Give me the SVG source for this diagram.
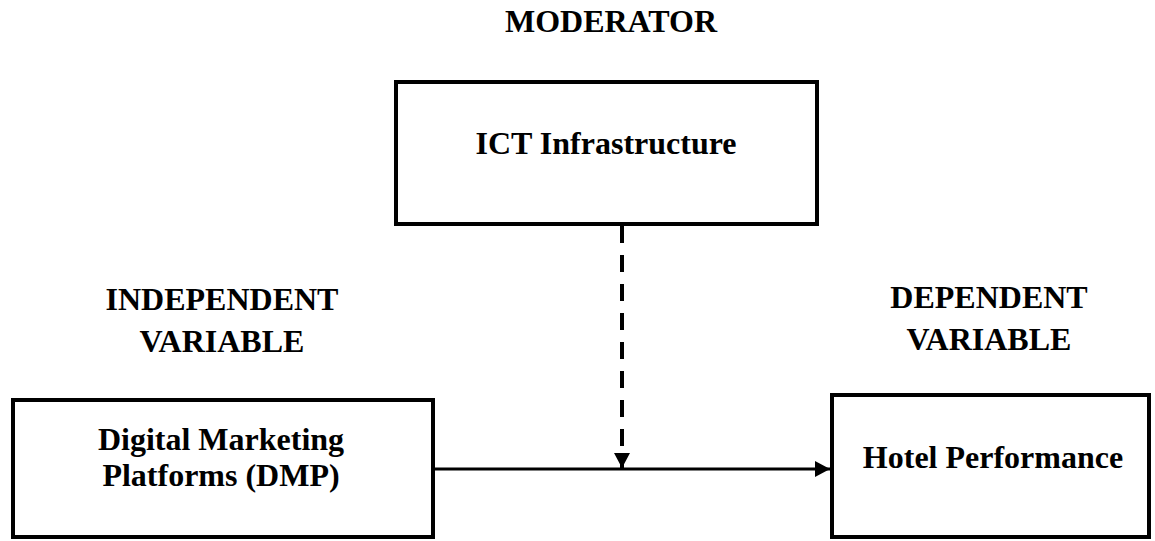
<svg xmlns="http://www.w3.org/2000/svg" width="1155" height="541" viewBox="0 0 1155 541">
<style>
.box{fill:#fff;stroke:#000;stroke-width:4}
.t{font-family:"Liberation Serif","Times New Roman",serif;font-weight:bold;font-size:32px;fill:#000;text-anchor:middle}
.lbl{font-family:"Liberation Serif","Times New Roman",serif;font-weight:bold;font-size:32px;fill:#000;text-anchor:middle}
.c{stroke:#000;fill:none}
</style>
<defs>
<marker id="ah" markerWidth="15" markerHeight="16" refX="15" refY="8" orient="auto" markerUnits="userSpaceOnUse">
<path d="M0,0 L15,8 L0,16 Z" fill="#000"/>
</marker>
</defs>
<g id="labels">
<text class="lbl" x="611" y="32">MODERATOR</text>
<text class="lbl" x="222" y="310">INDEPENDENT</text>
<text class="lbl" x="222" y="352">VARIABLE</text>
<text class="lbl" x="989" y="308">DEPENDENT</text>
<text class="lbl" x="989" y="350">VARIABLE</text>
</g>
<g id="node-ict">
<rect class="box" x="396" y="82" width="421" height="142"/>
<text class="t" x="606" y="154">ICT Infrastructure</text>
</g>
<g id="node-dmp">
<rect class="box" x="13" y="400" width="420" height="137"/>
<text class="t" x="221" y="450">Digital Marketing</text>
<text class="t" x="221" y="486">Platforms (DMP)</text>
</g>
<g id="node-hotel">
<rect class="box" x="832" y="395" width="317" height="142"/>
<text class="t" x="993" y="468">Hotel Performance</text>
</g>
<g id="connectors">
<line class="c" stroke-width="3" x1="435" y1="469" x2="830" y2="469" marker-end="url(#ah)"/>
<line class="c" stroke-width="4" x1="622" y1="226" x2="622" y2="468" stroke-dasharray="17,12" marker-end="url(#ah)"/>
</g>
</svg>
